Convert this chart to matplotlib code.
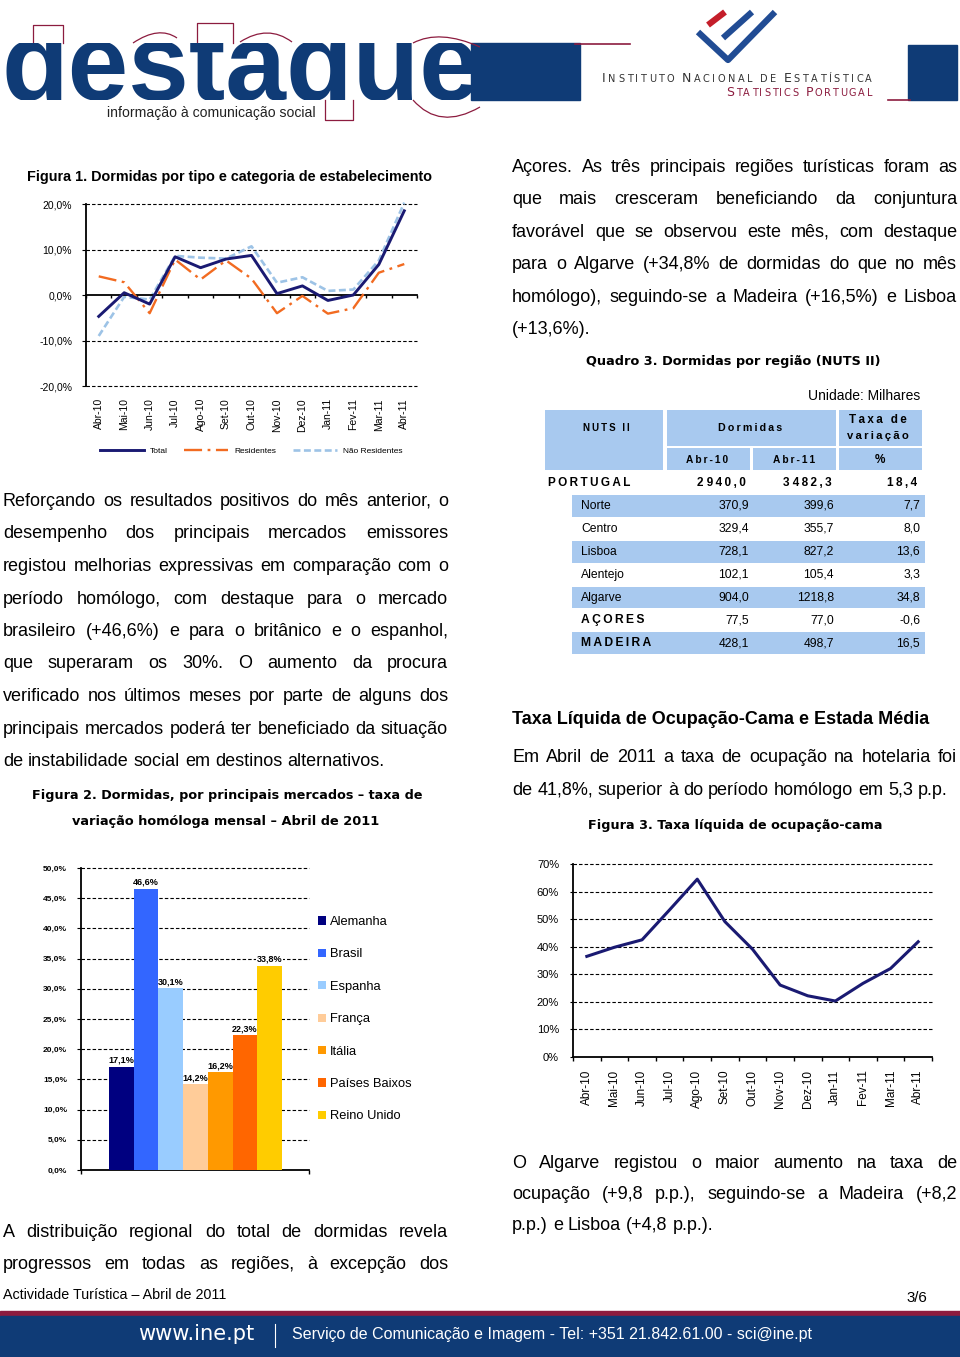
import numpy as np
import matplotlib
matplotlib.use('Agg')
import matplotlib.pyplot as plt
from matplotlib.patches import Rectangle, PathPatch
from matplotlib.path import Path

plt.rcParams['lines.scale_dashes'] = False
plt.rcParams['font.family'] = ['Liberation Sans', 'DejaVu Sans']

W, H = 960, 1357
NAVY = '#0F3B76'
NAVY2 = '#214C94'
MAROON = '#8C1C3F'
LINE_NAVY = '#1A1A72'
BLUE_T = '#A8C9EF'
BODY = ['Liberation Sans', 'DejaVu Sans']
TAHOMA_B = ['DejaVu Sans']
NARROW = ['Liberation Sans Narrow', 'Liberation Sans', 'DejaVu Sans']
ARIAL = ['Liberation Sans', 'DejaVu Sans']

# Figura 1 - taxa de variacao homologa das dormidas (%)
meses = ['Abr-10', 'Mai-10', 'Jun-10', 'Jul-10', 'Ago-10', 'Set-10', 'Out-10',
         'Nov-10', 'Dez-10', 'Jan-11', 'Fev-11', 'Mar-11', 'Abr-11']
total = [-4.7, 0.5, -2.0, 8.4, 6.0, 7.9, 8.7, 0.3, 2.0, -1.2, 0.0, 6.7, 18.5]
residentes = [4.1, 2.8, -4.0, 7.8, 3.4, 7.6, 3.6, -4.0, -0.2, -4.1, -2.9, 4.9, 6.8]
nao_residentes = [-9.0, -0.4, -1.0, 8.6, 8.2, 8.0, 10.7, 2.7, 3.9, 0.9, 1.2, 7.6, 20.3]

# Figura 2 - principais mercados
mercados = ['Alemanha', 'Brasil', 'Espanha', 'França', 'Itália', 'Países Baixos', 'Reino Unido']
var_mercados = [17.1, 46.6, 30.1, 14.2, 16.2, 22.3, 33.8]
cores_mercados = ['#000080', '#3366FF', '#99CCFF', '#FFCC99', '#FF9900', '#FF6600', '#FFCC00']

# Quadro 3 - dormidas por regiao (milhares)
regioes = ['PORTUGAL', 'Norte', 'Centro', 'Lisboa', 'Alentejo', 'Algarve', 'AÇORES', 'MADEIRA']
abr10 = [2940.0, 370.9, 329.4, 728.1, 102.1, 904.0, 77.5, 428.1]
abr11 = [3482.3, 399.6, 355.7, 827.2, 105.4, 1218.8, 77.0, 498.7]
taxa_var = [18.4, 7.7, 8.0, 13.6, 3.3, 34.8, -0.6, 16.5]

# Figura 3 - taxa liquida de ocupacao-cama (%)
ocupacao = [36.5, 39.8, 42.5, 53.4, 64.5, 49.1, 39.1, 26.1, 22.2, 20.3, 26.7, 32.1, 41.8]

fig = plt.figure(figsize=(W / 100, H / 100), dpi=100)
R = fig.canvas.get_renderer()

page = fig.add_axes([0, 0, 1, 1])
page.set_xlim(0, W)
page.set_ylim(H, 0)
page.axis('off')


def add_ax(x0, y0, x1, y1):
    return fig.add_axes([x0 / W, 1 - y1 / H, (x1 - x0) / W, (y1 - y0) / H])


def width(t):
    return t.get_window_extent(R).width


def fit(s, x0, x1, y, family=ARIAL, weight='normal', color='black', size=10):
    t = page.text(x0, y, s, family=family, weight=weight, color=color,
                  fontsize=size, va='center', ha='left')
    t.set_fontsize(size * (x1 - x0) / width(t))
    return t


def natural_size(s, target, family):
    t = page.text(0, 0, s, family=family, fontsize=10)
    w = width(t)
    t.remove()
    return 10 * target / w


def paragraph(lines, x0, x1, base0, step, size, family, last_free=True):
    a = page.text(0, 0, 'a a', fontsize=size, family=family)
    b = page.text(0, 0, 'aa', fontsize=size, family=family)
    space = width(a) - width(b)
    a.remove()
    b.remove()
    for k, line in enumerate(lines):
        words = line.split()
        ts = [page.text(0, base0 + k * step, w, fontsize=size, family=family,
                        va='baseline') for w in words]
        ws = [width(t) for t in ts]
        free = last_free and k == len(lines) - 1
        gap = space if free or len(words) < 2 else (x1 - x0 - sum(ws)) / (len(words) - 1)
        x = x0
        for t, w in zip(ts, ws):
            t.set_x(x)
            x += w + gap


def small_caps(s, x0, x1, base, color, big=9.0, small=7.0, word_extra=5.0):
    # maiusculas iniciais maiores, restantes letras em versalete, espacadas ate x1
    rows = []
    for word in s.split():
        rows.append([page.text(0, base, ch.upper(), va='baseline', color=color,
                               family=['DejaVu Sans'],
                               fontsize=big if (k == 0 and ch.isupper()) else small)
                     for k, ch in enumerate(word)])
    ws = [[width(t) for t in r] for r in rows]
    n_chars = sum(len(r) for r in rows)
    track = (x1 - x0 - sum(map(sum, ws)) - word_extra * (len(rows) - 1)) / (n_chars - 1)
    x = x0
    for r, wr in zip(rows, ws):
        for t, w in zip(r, wr):
            t.set_x(x)
            x += w + track
        x += word_extra


def spaced(s):
    return '\u2009'.join(s)


def curve(p0, pm, p2, **kw):
    c = (2 * pm[0] - (p0[0] + p2[0]) / 2, 2 * pm[1] - (p0[1] + p2[1]) / 2)
    page.add_patch(PathPatch(Path([p0, c, p2], [Path.MOVETO, Path.CURVE3, Path.CURVE3]),
                             fill=False, **kw))


# ---------------- cabecalho ----------------
logo = add_ax(0, 43, 480, 100)
logo.set_xlim(0, 480)
logo.set_ylim(100, 43)
logo.axis('off')
marca = logo.text(1, 100, 'destaque', ha='left', va='baseline', fontsize=80, weight='bold',
                  family=ARIAL, color=NAVY, clip_on=True)
marca.set_fontsize(80 * 478 / width(marca))
page.add_patch(Rectangle((471, 43), 109, 57, color=NAVY))
page.add_patch(Rectangle((908, 45), 49, 55, color=NAVY))
mk = dict(color=MAROON, lw=0.9)
page.plot([33, 33, 63, 63], [43, 25, 25, 43], **mk)
page.plot([197, 197, 233, 233], [43, 23, 23, 43], **mk)
page.plot([325, 325, 353, 353], [100, 120, 120, 100], **mk)
curve((133, 43), (157, 33), (177, 38), ec=MAROON, lw=0.9)
curve((240, 42), (267, 33), (292, 42), ec=MAROON, lw=0.9)
curve((413, 43), (443, 37), (480, 47), ec=MAROON, lw=0.9)
curve((413, 100), (443, 117), (480, 107), ec=MAROON, lw=0.9)
page.plot([575, 630], [44, 44], color=MAROON, lw=1.2)
page.plot([888, 910], [99.5, 99.5], color=MAROON, lw=1.2)
fit('informação à comunicação social', 107, 316, 113, family=NARROW, color='#222222')

page.plot([708, 725], [25, 12], color='#C41E2A', lw=4.5, solid_capstyle='butt')
page.plot([723, 752], [38, 12], color=NAVY2, lw=4.5, solid_capstyle='butt')
page.plot([698, 728, 775], [32, 60, 12], color=NAVY2, lw=4.5,
          solid_joinstyle='round', solid_capstyle='butt')
small_caps('Instituto Nacional de Estatística', 602, 872, 81.5, '#333333')
small_caps('Statistics Portugal', 726, 872, 95.5, MAROON)

# ---------------- textos ----------------
body = min(natural_size('principais mercados poderá ter beneficiado da situação', 443, BODY),
           natural_size('homólogo), seguindo-se a Madeira (+16,5%) e Lisboa', 443, BODY),
           natural_size('de 41,8%, superior à do período homólogo em 5,3 p.p.', 438, BODY))

fit('Figura 1. Dormidas por tipo e categoria de estabelecimento', 27, 432, 177,
    family=ARIAL, weight='bold')

paragraph(['Açores. As três principais regiões turísticas foram as',
           'que mais cresceram beneficiando da conjuntura',
           'favorável que se observou este mês, com destaque',
           'para o Algarve (+34,8% de dormidas do que no mês',
           'homólogo), seguindo-se a Madeira (+16,5%) e Lisboa',
           '(+13,6%).'], 512, 957, 172, 32.4, body, BODY)

paragraph(['Reforçando os resultados positivos do mês anterior, o',
           'desempenho dos principais mercados emissores',
           'registou melhorias expressivas em comparação com o',
           'período homólogo, com destaque para o mercado',
           'brasileiro (+46,6%) e para o britânico e o espanhol,',
           'que superaram os 30%. O aumento da procura',
           'verificado nos últimos meses por parte de alguns dos',
           'principais mercados poderá ter beneficiado da situação',
           'de instabilidade social em destinos alternativos.'], 3, 448, 506, 32.5, body, BODY)

fit('Quadro 3. Dormidas por região (NUTS II)', 586, 882, 362, family=TAHOMA_B, weight='bold')
fit('Figura 2. Dormidas, por principais mercados – taxa de', 32, 420, 796,
    family=TAHOMA_B, weight='bold')
fit('variação homóloga mensal – Abril de 2011', 72, 379, 822, family=TAHOMA_B, weight='bold')
fit('Taxa Líquida de Ocupação-Cama e Estada Média', 512, 928, 720, family=ARIAL, weight='bold')
paragraph(['Em Abril de 2011 a taxa de ocupação na hotelaria foi',
           'de 41,8%, superior à do período homólogo em 5,3 p.p.'],
          512, 957, 762, 32.8, body, BODY)
fit('Figura 3. Taxa líquida de ocupação-cama', 588, 881, 825, family=TAHOMA_B, weight='bold')

narrow = natural_size('p.p.) e Lisboa (+4,8 p.p.).', 200, NARROW)
paragraph(['O Algarve registou o maior aumento na taxa de',
           'ocupação (+9,8 p.p.), seguindo-se a Madeira (+8,2',
           'p.p.) e Lisboa (+4,8 p.p.).'], 512, 957, 1168, 31, narrow, NARROW)
paragraph(['A distribuição regional do total de dormidas revela',
           'progressos em todas as regiões, à excepção dos'],
          3, 448, 1237, 32, narrow, NARROW, last_free=False)

# ---------------- rodape ----------------
fit('Actividade Turística – Abril de 2011', 3, 226, 1295, family=NARROW)
fit('3/6', 906, 927, 1298, family=NARROW)
page.add_patch(Rectangle((0, 1311), W, 5, color=MAROON))
page.add_patch(Rectangle((0, 1316), W, 41, color=NAVY))
fit('www.ine.pt', 138, 255, 1334, family=['DejaVu Sans'], color='white')
page.plot([275, 275], [1324, 1347], color='white', lw=0.8)
fit('Serviço de Comunicação e Imagem - Tel: +351 21.842.61.00 - sci@ine.pt', 292, 813, 1335,
    family=NARROW, color='white')

# ---------------- Quadro 3 ----------------
fit('Unidade: Milhares', 808, 920, 396, family=ARIAL)
for (x0, y0, x1, y1) in [(545, 410, 663, 470), (667, 410, 836, 446), (839, 410, 922, 446),
                         (667, 448, 750, 470), (753, 448, 836, 470), (839, 448, 922, 470)]:
    page.add_patch(Rectangle((x0, y0), x1 - x0, y1 - y0, color=BLUE_T, lw=0))
fit(spaced('NUTS II'), 583, 629, 428, weight='bold')
fit(spaced('Dormidas'), 718, 782, 428, weight='bold')
fit(spaced('Taxa de'), 849, 906, 420, weight='bold')
fit(spaced('variação'), 847, 908, 436, weight='bold')
fit(spaced('Abr-10'), 686, 728, 460, weight='bold')
fit(spaced('Abr-11'), 773, 815, 460, weight='bold')
page.text(880, 460, '%', ha='center', va='center', fontsize=8.5, weight='bold')

row0, row_h = 483, 22.9
for i, (nome, a, b, t) in enumerate(zip(regioes, abr10, abr11, taxa_var)):
    y = row0 + i * row_h
    if i % 2 == 1:
        page.add_patch(Rectangle((572, y - row_h / 2 + 0.6), 353, row_h - 1.2,
                                 color=BLUE_T, lw=0))
    forte = nome.isupper()
    if i == 0:
        page.text(548, y, spaced(nome), va='center', fontsize=8.5, weight='bold')
        vals = [f'{a:,.1f}'.replace(',', ' ').replace('.', ','),
                f'{b:,.1f}'.replace(',', ' ').replace('.', ','),
                f'{t:.1f}'.replace('.', ',')]
        for xv, s in zip([746, 832, 917], vals):
            page.text(xv, y, spaced(s).replace('\u2009 \u2009', ' '), ha='right',
                      va='center', fontsize=8.5, weight='bold')
    else:
        page.text(581, y, spaced(nome) if forte else nome, va='center',
                  fontsize=8.7, weight='bold' if forte else 'normal')
        for xv, v in zip([749, 834, 920], [a, b, t]):
            page.text(xv, y, f'{v:.1f}'.replace('.', ','), ha='right', va='center',
                      fontsize=8.7)

# ---------------- Figura 1 ----------------
ax1 = add_ax(86, 204, 417, 386)
x1 = np.arange(len(meses)) + 0.5
ax1.plot(x1, total, color=LINE_NAVY, lw=2.1, label='Total', zorder=4, clip_on=False)
ax1.plot(x1, residentes, color='#F26B21', lw=1.7, dashes=(13, 4, 2, 4),
         label='Residentes', zorder=3, clip_on=False)
ax1.plot(x1, nao_residentes, color='#9DC3E6', lw=1.9, dashes=(5, 2.5),
         label='Não Residentes', zorder=2, clip_on=False)
ax1.set_xlim(0, len(meses))
ax1.set_ylim(-20, 20)
for v in [-20, -10, 10, 20]:
    ax1.axhline(v, color='black', lw=0.8, dashes=(2.5, 1.5), zorder=1, clip_on=False)
ax1.spines[['top', 'right']].set_visible(False)
ax1.spines['bottom'].set_position(('data', 0))
ax1.spines['left'].set_linewidth(1.3)
ax1.spines['bottom'].set_linewidth(1.3)
ax1.set_xticks(np.arange(len(meses) + 1))
ax1.set_xticklabels([])
ax1.tick_params(axis='x', direction='out', length=2.5, width=1)
ax1.set_yticks([-20, -10, 0, 10, 20])
ax1.set_yticklabels(['-20,0%', '-10,0%', '0,0%', '10,0%', '20,0%'], fontsize=7.5)
ax1.tick_params(axis='y', direction='out', length=3, width=0.8, pad=7)
ax1.patch.set_alpha(0)
for xi, m in zip(x1, meses):
    ax1.text(xi, -0.066, m, rotation=90, ha='center', va='top', fontsize=7.5,
             transform=ax1.get_xaxis_transform())
ax1.legend(loc='center', bbox_to_anchor=(251 / W, 1 - 451 / H), bbox_transform=fig.transFigure,
           ncol=3, frameon=False, fontsize=6, handlelength=5.3, handletextpad=0.7,
           columnspacing=2.0, borderpad=0)

# ---------------- Figura 2 ----------------
ax2 = add_ax(81, 868, 309, 1170)
pos = np.arange(len(mercados))
bars = ax2.bar(pos, var_mercados, width=1.0, color=cores_mercados, zorder=3)
ax2.set_xlim(-1.63, 7.59)
ax2.set_ylim(0, 50)
for v in np.arange(5, 55, 5):
    ax2.axhline(v, color='black', lw=0.8, dashes=(2.5, 1.5), zorder=1, clip_on=False)
for p, v in zip(pos, var_mercados):
    ax2.annotate(f'{v:.1f}%'.replace('.', ','), (p, v), xytext=(0, 1.5),
                 textcoords='offset points', ha='center', va='bottom', fontsize=6.5,
                 weight='bold', zorder=2,
                 bbox=dict(boxstyle='square,pad=0.1', fc='white', ec='none'))
ax2.spines[['top', 'right']].set_visible(False)
ax2.spines['left'].set_linewidth(1.3)
ax2.spines['bottom'].set_linewidth(1.3)
ax2.set_xticks(ax2.get_xlim())
ax2.set_xticklabels([])
ax2.tick_params(axis='x', direction='out', length=3, width=1)
ax2.set_yticks(np.arange(0, 55, 5))
ax2.set_yticklabels([f'{v:.1f}%'.replace('.', ',') for v in np.arange(0, 55, 5)],
                    fontsize=6, weight='bold')
ax2.tick_params(axis='y', direction='out', length=3, width=0.8, pad=7)
ax2.patch.set_alpha(0)
ax2.legend(bars.patches, mercados, loc='upper left', bbox_to_anchor=(318 / W, 1 - 916 / H),
           bbox_transform=fig.transFigure, frameon=False, fontsize=9.3, handlelength=0.6,
           handleheight=0.6, handletextpad=0.35, labelspacing=1.58, borderpad=0,
           borderaxespad=0)

# ---------------- Figura 3 ----------------
ax3 = add_ax(573, 864, 932, 1057)
x3 = np.arange(len(meses)) + 0.5
ax3.plot(x3, ocupacao, color=LINE_NAVY, lw=2.2, zorder=3)
ax3.set_xlim(0, len(meses))
ax3.set_ylim(0, 70)
for v in range(10, 80, 10):
    ax3.axhline(v, color='black', lw=0.8, dashes=(2.5, 1.5), zorder=1, clip_on=False)
ax3.spines[['top', 'right']].set_visible(False)
ax3.spines['left'].set_linewidth(1.3)
ax3.spines['bottom'].set_linewidth(1.3)
ax3.set_xticks(np.arange(len(meses) + 1))
ax3.set_xticklabels([])
ax3.set_xticks(x3, minor=True)
ax3.set_xticklabels(meses, minor=True, rotation=90, fontsize=8.5)
ax3.tick_params(axis='x', which='major', direction='out', length=3, width=1)
ax3.tick_params(axis='x', which='minor', length=0, pad=9)
ax3.set_yticks(range(0, 80, 10))
ax3.set_yticklabels([f'{v}%' for v in range(0, 80, 10)], fontsize=8)
ax3.tick_params(axis='y', direction='out', length=2, width=0.8, pad=8)
ax3.patch.set_alpha(0)

fig.savefig('out.png', dpi=100, facecolor='white')
